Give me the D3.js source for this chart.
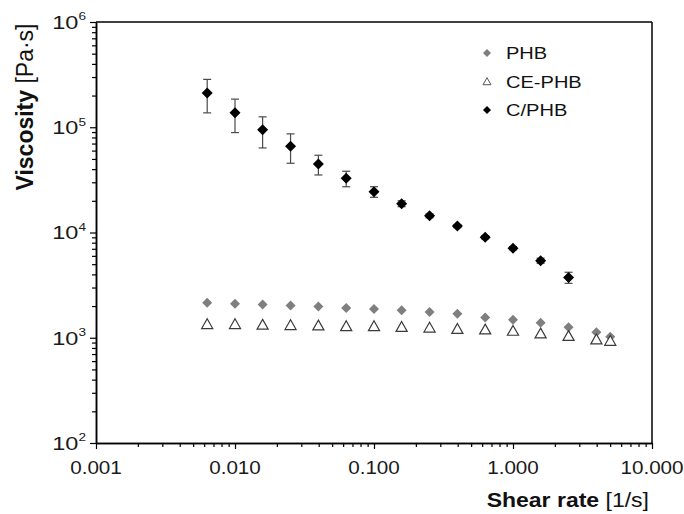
<!DOCTYPE html>
<html><head><meta charset="utf-8">
<script src="https://cdn.jsdelivr.net/npm/d3@7"></script>
<style>
html,body{margin:0;padding:0;background:#fff;}
text{font-family:"Liberation Sans",Arial,sans-serif;}
</style></head>
<body>
<svg id="chart" width="684" height="514"></svg>
<script>
// ---- data ----
const shearRate = [0.00631, 0.01, 0.0158, 0.0251, 0.0398, 0.0631, 0.1, 0.158, 0.251, 0.398, 0.631, 1.0, 1.58, 2.51, 3.98, 5.01];
const phb   = [2150, 2100, 2070, 2030, 1980, 1920, 1880, 1830, 1760, 1690, 1560, 1480, 1390, 1260, 1130, 1020];
const cePhb = [1350, 1350, 1330, 1320, 1310, 1290, 1290, 1270, 1250, 1215, 1200, 1165, 1100, 1040, 965, 935];
const cPhb  = [211000, 137000, 94600, 66000, 44700, 32700, 24400, 18800, 14400, 11500, 9000, 7100, 5400, 3740];
const cPhbErr = [74000, 48000, 31000, 20500, 9500, 5500, 2800, 1200, 600, 400, 300, 250, 300, 450];
const seriesNames = ["PHB", "CE-PHB", "C/PHB"];
const xTickValues = [0.001, 0.01, 0.1, 1, 10];
const xTickLabels = ["0.001", "0.010", "0.100", "1.000", "10.000"];
const yTickValues = [1e2, 1e3, 1e4, 1e5, 1e6];
const yTickExps = ["2", "3", "4", "5", "6"];
const xTitle = ["Shear rate", " [1/s]"];
const yTitle = ["Viscosity", " [Pa·s]"];

// ---- layout ----
const svg = d3.select("#chart");
const L = 96, R = 652, T = 22, B = 443;
const sx = 1.18; // horizontal stretch of text in the reference
const x = d3.scaleLog().domain([0.001, 10]).range([L, R]);
const y = d3.scaleLog().domain([1e2, 1e6]).range([B, T]);

function minorTicks(lo, hi) {
  const out = [];
  for (let d = lo; d < hi; d *= 10) for (let k = 2; k <= 9; k++) out.push(d * k);
  return out;
}

// frame
svg.append("line").attr("x1", L).attr("x2", R).attr("y1", T).attr("y2", T).attr("stroke", "#000").attr("stroke-width", 1.5);
svg.append("line").attr("x1", R).attr("x2", R).attr("y1", T).attr("y2", B).attr("stroke", "#000").attr("stroke-width", 1.5);

// axes
const styleAxis = g => { g.select(".domain").attr("stroke", "#000").attr("stroke-width", 1.5); g.selectAll(".tick line").attr("stroke", "#000").attr("stroke-width", 1.2); };
svg.append("g").attr("transform", `translate(0,${B})`)
  .call(d3.axisBottom(x).tickValues(minorTicks(0.001, 10)).tickSize(4).tickSizeOuter(0).tickFormat(""))
  .call(styleAxis);
svg.append("g").attr("transform", `translate(0,${B})`)
  .call(d3.axisBottom(x).tickValues(xTickValues).tickSize(6).tickSizeOuter(0).tickFormat(""))
  .call(styleAxis);
svg.append("g").attr("transform", `translate(${L},0)`)
  .call(d3.axisLeft(y).tickValues(minorTicks(1e2, 1e6)).tickSize(4).tickSizeOuter(0).tickFormat(""))
  .call(styleAxis);
svg.append("g").attr("transform", `translate(${L},0)`)
  .call(d3.axisLeft(y).tickValues(yTickValues).tickSize(6).tickSizeOuter(0).tickFormat(""))
  .call(styleAxis);

// x tick labels
xTickValues.forEach((v, i) => {
  svg.append("text").attr("transform", `translate(${x(v)},${B + 31}) scale(${sx},1)`)
    .attr("text-anchor", "middle").attr("font-size", 17.5).attr("fill", "#1a1a1a").text(xTickLabels[i]);
});
// y tick labels
yTickValues.forEach((v, i) => {
  const t = svg.append("text").attr("transform", `translate(${L - 10},${y(v) + 6.8}) scale(1.24,1)`)
    .attr("text-anchor", "end").attr("font-size", 19).attr("fill", "#1a1a1a");
  t.append("tspan").text("10");
  t.append("tspan").attr("font-size", 11).attr("dy", -8.5).text(yTickExps[i]);
});

// axis titles
const xt = svg.append("text").attr("transform", `translate(649,507) scale(${sx},1)`)
  .attr("text-anchor", "end").attr("font-size", 19.5).attr("fill", "#111");
xt.append("tspan").attr("font-weight", "bold").text(xTitle[0]);
xt.append("tspan").text(xTitle[1]);
const yt = svg.append("text").attr("transform", `translate(33,${(22 + 192) / 2}) rotate(-90) scale(1,1.04)`)
  .attr("text-anchor", "middle").attr("font-size", 23).attr("fill", "#111");
yt.append("tspan").attr("font-weight", "bold").text(yTitle[0]);
yt.append("tspan").text(yTitle[1]);

// symbols
const diamond = r => `M0,${-r}L${r},0L0,${r}L${-r},0Z`;
const tri = r => `M0,${-r}L${r * 1.05},${r * 0.85}L${-r * 1.05},${r * 0.85}Z`;

// error bars C/PHB
const eb = svg.append("g").attr("stroke", "#4a4a4a").attr("stroke-width", 1.2);
cPhb.forEach((v, i) => {
  const cx = x(shearRate[i]);
  const y1 = y(v + cPhbErr[i]), y2 = y(v - cPhbErr[i]);
  eb.append("line").attr("x1", cx).attr("x2", cx).attr("y1", y1).attr("y2", y2);
  eb.append("line").attr("x1", cx - 4).attr("x2", cx + 4).attr("y1", y1).attr("y2", y1);
  eb.append("line").attr("x1", cx - 4).attr("x2", cx + 4).attr("y1", y2).attr("y2", y2);
});

// PHB
svg.append("g").selectAll("path").data(phb).join("path")
  .attr("transform", (d, i) => `translate(${x(shearRate[i])},${y(d)})`)
  .attr("d", diamond(5)).attr("fill", "#7f7f7f");
// CE-PHB
svg.append("g").selectAll("path").data(cePhb).join("path")
  .attr("transform", (d, i) => `translate(${x(shearRate[i])},${y(d)})`)
  .attr("d", tri(5.3)).attr("fill", "#fff").attr("stroke", "#3a3a3a").attr("stroke-width", 1.2);
// C/PHB
svg.append("g").selectAll("path").data(cPhb).join("path")
  .attr("transform", (d, i) => `translate(${x(shearRate[i])},${y(d)})`)
  .attr("d", diamond(5.5)).attr("fill", "#000");

// legend
const legY = [53, 81.5, 110];
const lg = svg.append("g");
lg.append("path").attr("transform", `translate(487,${legY[0]})`).attr("d", diamond(4)).attr("fill", "#7f7f7f");
lg.append("path").attr("transform", `translate(487,${legY[1]})`).attr("d", tri(3.8)).attr("fill", "#fff").attr("stroke", "#555").attr("stroke-width", 1);
lg.append("path").attr("transform", `translate(487,${legY[2]})`).attr("d", diamond(4)).attr("fill", "#000");
seriesNames.forEach((n, i) => {
  lg.append("text").attr("transform", `translate(506,${legY[i] + 6}) scale(${sx},1)`)
    .attr("font-size", 17).attr("fill", "#111").text(n);
});
</script>
</body></html>
